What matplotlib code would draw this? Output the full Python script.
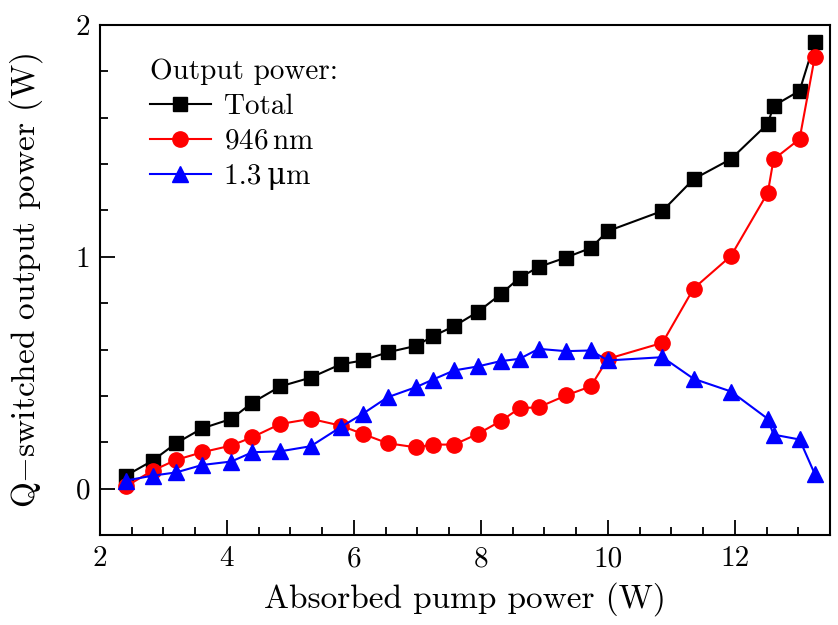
import matplotlib
matplotlib.use("Agg")
import matplotlib.pyplot as plt
from matplotlib.ticker import MultipleLocator

plt.rcParams['font.family'] = ['cmr10', 'DejaVu Serif']
plt.rcParams['mathtext.fontset'] = 'cm'
plt.rcParams['axes.unicode_minus'] = False

# absorbed pump power (W)
pump = [2.41, 2.83, 3.20, 3.61, 4.07, 4.40, 4.84, 5.32, 5.79, 6.14, 6.53, 6.98, 7.24, 7.58,
        7.95, 8.31, 8.61, 8.91, 9.34, 9.73, 10.0, 10.86, 11.35, 11.94, 12.52, 12.61, 13.02, 13.26]

# Q-switched output power (W)
total = [0.056, 0.121, 0.196, 0.260, 0.301, 0.371, 0.441, 0.479, 0.536, 0.553, 0.588, 0.616, 0.657, 0.701,
         0.762, 0.838, 0.910, 0.956, 0.997, 1.038, 1.111, 1.198, 1.335, 1.422, 1.574, 1.651, 1.716, 1.928]
p946 = [0.010, 0.078, 0.124, 0.157, 0.186, 0.222, 0.279, 0.301, 0.272, 0.236, 0.196, 0.178, 0.190, 0.190,
        0.236, 0.291, 0.347, 0.351, 0.402, 0.441, 0.560, 0.629, 0.863, 1.004, 1.277, 1.420, 1.508, 1.863]
p1300 = [0.035, 0.056, 0.070, 0.102, 0.117, 0.157, 0.161, 0.183, 0.265, 0.323, 0.394, 0.438, 0.470, 0.510,
         0.527, 0.550, 0.560, 0.603, 0.593, 0.596, 0.553, 0.567, 0.474, 0.419, 0.301, 0.233, 0.212, 0.063]

fig = plt.figure(figsize=(8.38, 6.25), dpi=100)
ax = fig.add_axes([0.1193, 0.144, 0.8712, 0.816])

ax.plot(pump, total, color='black', marker='s', ms=10, lw=1.5, label='Total')
ax.plot(pump, p946, color='red', marker='o', ms=11, lw=1.5, label='946$\\,$nm')
ax.plot(pump, p1300, color='blue', marker='^', ms=11, lw=1.5, label='1.3\u2009\u03bcm')

ax.set_xlim(2, 13.5)
ax.set_ylim(-0.2, 2)
ax.xaxis.set_major_locator(MultipleLocator(2))
ax.xaxis.set_minor_locator(MultipleLocator(0.5))
ax.yaxis.set_major_locator(MultipleLocator(1))
ax.yaxis.set_minor_locator(MultipleLocator(0.2))
ax.tick_params(which='both', direction='in', top=False, right=False, labelsize=21, width=1.3)
ax.tick_params(axis='x', which='major', length=11, pad=8)
ax.tick_params(axis='y', which='major', length=11, pad=7)
ax.tick_params(which='minor', length=5.5)
for s in ax.spines.values():
    s.set_linewidth(1.5)

ax.set_xlabel('Absorbed pump power (W)', fontsize=24, labelpad=7)
ax.set_ylabel('Q$-$switched output power (W)', fontsize=24, labelpad=22)

leg = ax.legend(title='Output power:', loc='upper left', bbox_to_anchor=(0.068, 0.935),
                frameon=False, fontsize=21, title_fontsize=21, alignment='left',
                handlelength=2.1, handletextpad=0.45, labelspacing=0.3, borderaxespad=0,
                borderpad=0)

fig.savefig('out.png', dpi=100)
